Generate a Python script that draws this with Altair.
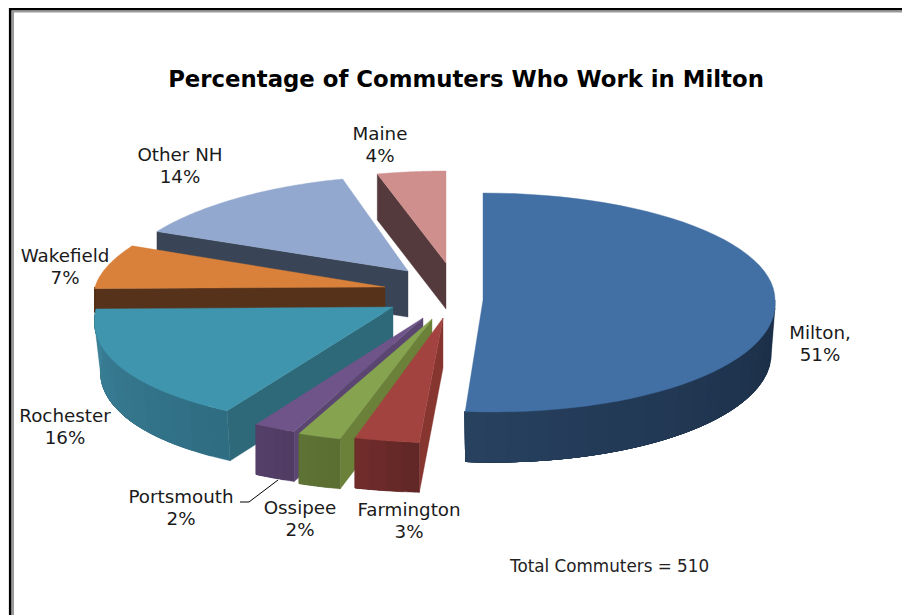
import math
import altair as alt

# Commuter destinations, clockwise from twelve o'clock
names = ["Milton,", "Farmington", "Ossipee", "Portsmouth", "Rochester", "Wakefield", "Other NH", "Maine"]
percents = [51, 3, 2, 2, 16, 7, 14, 4]

top_colors = ["#4270a5", "#a34340", "#86a44f", "#6f5489", "#3f95ad", "#d9813a", "#92a8ce", "#cf8f8d"]
cut_colors = ["#1d2f49", "#87362f", "#6b8038", "#5a4670", "#2d6979", "#57321a", "#394456", "#543a3c"]
wall_light = ["#27415f", "#732d2c", "#5f7336", "#553f69", "#3b8299", "#57321a", "#394456", "#543a3c"]
wall_dark = ["#1b2d46", "#5f2626", "#5b6e33", "#503c63", "#2f6c82", "#57321a", "#394456", "#543a3c"]

# Projection of each exploded slice: apex x/y, horizontal radius, back and
# front vertical radii, perspective widening, front skew, extrusion depth,
# inward lean of the extruded lower rim
tilt = {
    "Milton,": (483, 300, 292, 107, 112, 0.00, 10, 50, 4),
    "Farmington": (443, 318, 343, 125, 125, 0.00, 9, 50, 0),
    "Ossipee": (432, 319, 343, 125, 125, 0.00, 5, 50, 0),
    "Portsmouth": (423, 318, 335, 124, 124, 0.00, 6, 50, 0),
    "Rochester": (393, 307, 296, 121, 121, 0.146, 6, 50, 6),
    "Wakefield": (385, 287, 290, 99, 99, 0.10, 0, 24, 0),
    "Other NH": (408, 271, 288, 95, 95, 0.10, 0, 46, 0),
    "Maine": (446, 263, 303, 92, 92, 0.10, 0, 46, 0),
}
draw_order = ["Maine", "Other NH", "Wakefield", "Milton,", "Rochester", "Portsmouth", "Ossipee", "Farmington"]


def project(name, degrees, lower=False):
    tx, ty, rx, ry_back, ry_front, widen, skew, depth, lean = tilt[name]
    a = math.radians(degrees)
    depth_axis = -math.cos(a)
    x = tx + rx * math.sin(a) * (1 + widen * depth_axis) + skew * max(depth_axis, 0)
    y = ty + depth_axis * (ry_front if depth_axis > 0 else ry_back)
    if lower:
        x -= lean * math.sin(a)
        y += depth
    return [x, y]


def polygon(points, fill):
    ring = points + [points[0]]
    return {
        "type": "Feature",
        "geometry": {"type": "Polygon", "coordinates": [ring]},
        "properties": {"fill": fill},
    }


def blend(c1, c2, t):
    v1 = [int(c1[i:i + 2], 16) for i in (1, 3, 5)]
    v2 = [int(c2[i:i + 2], 16) for i in (1, 3, 5)]
    return "#" + "".join(f"{round(p + (q - p) * t):02x}" for p, q in zip(v1, v2))


# Slice angles follow the percentages, normalised over their rounded total
total = sum(percents)
starts = {}
running = 0.0
for name, pct in zip(names, percents):
    sweep = pct / total * 360
    starts[name] = (running, running + sweep)
    running += sweep

features = []
for name in draw_order:
    i = names.index(name)
    t0, t1 = starts[name]
    depth = tilt[name][7]
    apex = [float(tilt[name][0]), float(tilt[name][1])]

    # Cut face along the slice's leading edge
    if name != "Milton,":
        features.append(polygon(
            [apex, project(name, t0), project(name, t0, lower=True), [apex[0], apex[1] + depth]],
            cut_colors[i],
        ))

    # Curved outer wall, only where the rim faces the viewer; each band runs on
    # under the next one so that no seam shows between them
    w0, w1 = max(t0, 90), min(t1, 270)
    if w0 < w1:
        bands = max(4, int((w1 - w0) / 4))
        for b in range(bands):
            a0 = w0 + (w1 - w0) * b / bands
            span = [a0 + (w1 - a0) * s / 24 for s in range(25)]
            shade = blend(wall_dark[i], wall_light[i], (b + 0.5) / bands)
            upper_rim = [project(name, a) for a in span]
            lower_rim = [project(name, a, lower=True) for a in reversed(span)]
            features.append(polygon(upper_rim + lower_rim, shade))

    # Top face
    rim = [project(name, t0 + (t1 - t0) * s / 60) for s in range(61)]
    features.append(polygon([apex] + rim, top_colors[i]))

identity = dict(type="identity", scale=1, translate=[0, 0])

faces = alt.Chart(alt.Data(values=features)).mark_geoshape(strokeWidth=0.4).encode(
    fill=alt.Color("properties.fill:N", scale=None),
    stroke=alt.Color("properties.fill:N", scale=None),
).project(**identity)


def line_feature(points, color, width):
    return {
        "type": "Feature",
        "geometry": {"type": "LineString", "coordinates": points},
        "properties": {"color": color, "width": width},
    }


# Double border on the top and left, plus the Portsmouth leader
outlines = [
    line_feature([[10.2, 615], [10.2, 9.2], [902, 9.2]], "#000000", 2.6),
    line_feature([[13, 615], [13, 11.5], [902, 11.5]], "#9a9a9a", 2),
    line_feature([[240, 502], [249, 502], [278, 480]], "#000000", 1),
]
lines = alt.Chart(alt.Data(values=outlines)).mark_geoshape(filled=False).encode(
    stroke=alt.Color("properties.color:N", scale=None),
    strokeWidth=alt.StrokeWidth("properties.width:Q", scale=None),
).project(**identity)

# Data label anchors, one entry per destination
label_x = [820, 409, 300, 181, 65, 65, 180, 380]
label_y = [334, 511, 509, 498, 417, 257, 156, 135]
rows = []
for name, pct, lx, ly in zip(names, percents, label_x, label_y):
    rows.append({"lon": lx, "lat": ly, "text": name})
    rows.append({"lon": lx, "lat": ly + 21.5, "text": f"{pct}%"})

labels = alt.Chart(alt.Data(values=rows)).mark_text(
    font="DejaVu Sans", fontSize=18.3, color="#1a1a1a", align="center", baseline="middle",
).encode(longitude="lon:Q", latitude="lat:Q", text="text:N").project(**identity)

note = alt.Chart(alt.Data(values=[{"lon": 510, "lat": 567, "text": "Total Commuters = 510"}])).mark_text(
    font="DejaVu Sans", fontSize=16.8, color="#222222", align="left", baseline="middle",
).encode(longitude="lon:Q", latitude="lat:Q", text="text:N").project(**identity)

title = alt.Chart(alt.Data(values=[{"lon": 466, "lat": 80, "text": "Percentage of Commuters Who Work in Milton"}])).mark_text(
    font="DejaVu Sans", fontSize=22.8, fontWeight="bold", color="#000000", align="center", baseline="middle",
).encode(longitude="lon:Q", latitude="lat:Q", text="text:N").project(**identity)

chart = alt.layer(faces, lines, labels, note, title).properties(
    width=902, height=615, padding=0, autosize=alt.AutoSizeParams(type="none"), background="white",
).configure_view(stroke=None)

chart.save("out.html", embed_options={"renderer": "svg", "actions": False})
